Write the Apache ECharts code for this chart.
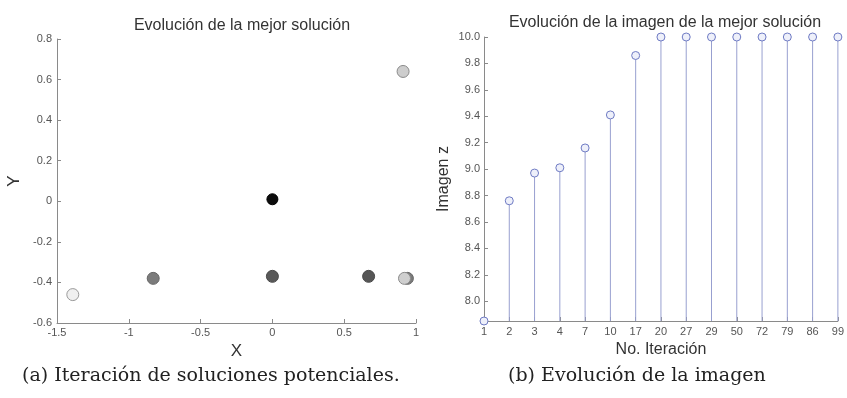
<!DOCTYPE html>
<html>
<head>
<meta charset="utf-8">
<script src="https://cdn.jsdelivr.net/npm/echarts@6/dist/echarts.min.js"></script>
<style>
  html, body { margin: 0; padding: 0; background: #fff; }
  #chart { width: 847px; height: 398px; }
</style>
</head>
<body>
<div id="chart"></div>
<script>
// Candidate solutions visited by the search (x, y)
const solX = [0.94, 0.92, 0.91, 0.0, 0.0, -0.83, -1.39, 0.67];
const solY = [-0.38, -0.38, 0.64, 0.01, -0.37, -0.38, -0.46, -0.37];

// Objective value of the best solution per iteration
const iterations = ['1', '2', '3', '4', '7', '10', '17', '20', '27', '29', '50', '72', '79', '86', '99'];
const imageZ = [7.85, 8.76, 8.97, 9.01, 9.16, 9.41, 9.86, 10.0, 10.0, 10.0, 10.0, 10.0, 10.0, 10.0, 10.0];

// Tick values
const xTicksA = [-1.5, -1, -0.5, 0, 0.5, 1];
const yTicksA = [-0.6, -0.4, -0.2, 0, 0.2, 0.4, 0.6, 0.8];
const yTicksB = [8.0, 8.2, 8.4, 8.6, 8.8, 9.0, 9.2, 9.4, 9.6, 9.8, 10.0];

// Grey level of each scatter marker (fill, border)
const shades = [
  ['#7a7a7a', '#666'], ['#cfcfcf', '#8a8a8a'], ['#cdcdcd', '#8a8a8a'],
  ['#0c0c0c', '#000'], ['#595959', '#4a4a4a'], ['#7b7b7b', '#666'],
  ['#f0f0f0', '#9a9a9a'], ['#565656', '#4a4a4a']
];

const axisCol = '#8a8a8a';
const labelCol = '#555';
const font = 'Liberation Sans, Arial, sans-serif';

const chart = echarts.init(document.getElementById('chart'), null, { renderer: 'canvas' });

const scatterData = solX.map((x, i) => ({
  value: [x, solY[i]],
  symbolSize: i === 3 ? 11 : 12,
  itemStyle: { color: shades[i][0], borderColor: shades[i][1], borderWidth: 1, opacity: 1 }
}));

const axisCommon = {
  axisLine: { show: true, onZero: false, lineStyle: { color: axisCol, width: 1 } },
  axisTick: { show: true, inside: true, length: 4, lineStyle: { color: axisCol } },
  splitLine: { show: false },
  axisLabel: { color: labelCol, fontSize: 11, fontFamily: font },
  nameTextStyle: { color: '#333', fontFamily: font }
};

const option = {
  animation: false,
  backgroundColor: '#fff',
  title: [
    { text: 'Evolución de la mejor solución', left: 237, top: 13, textAlign: 'center',
      textStyle: { fontSize: 16, fontWeight: 'normal', color: '#333', fontFamily: font } },
    { text: 'Evolución de la imagen de la mejor solución', left: 660, top: 10, textAlign: 'center',
      textStyle: { fontSize: 16, fontWeight: 'normal', color: '#333', fontFamily: font } }
  ],
  grid: [
    { left: 57, top: 39, width: 359, height: 284 },
    { left: 484, top: 37, width: 354, height: 284 }
  ],
  xAxis: [
    Object.assign({}, axisCommon, {
      gridIndex: 0, type: 'value', min: -1.5, max: 1,
      name: 'X', nameLocation: 'middle', nameGap: 16,
      nameTextStyle: { color: '#333', fontSize: 17, fontFamily: font },
      axisTick: Object.assign({}, axisCommon.axisTick, { customValues: xTicksA }),
      axisLabel: Object.assign({}, axisCommon.axisLabel, { customValues: xTicksA, margin: 4 })
    }),
    Object.assign({}, axisCommon, {
      gridIndex: 1, type: 'category', data: iterations, boundaryGap: false,
      name: 'No. Iteración', nameLocation: 'middle', nameGap: 20,
      nameTextStyle: { color: '#333', fontSize: 16, fontFamily: font },
      axisTick: Object.assign({}, axisCommon.axisTick, { alignWithLabel: true }),
      axisLabel: Object.assign({}, axisCommon.axisLabel, { margin: 5, interval: 0 })
    })
  ],
  yAxis: [
    Object.assign({}, axisCommon, {
      gridIndex: 0, type: 'value', min: -0.6, max: 0.8,
      name: 'Y', nameLocation: 'middle', nameGap: 34,
      nameTextStyle: { color: '#333', fontSize: 17, fontFamily: font },
      axisTick: Object.assign({}, axisCommon.axisTick, { customValues: yTicksA }),
      axisLabel: Object.assign({}, axisCommon.axisLabel, { customValues: yTicksA, margin: 5,
        formatter: v => String(Math.round(v * 10) / 10) })
    }),
    Object.assign({}, axisCommon, {
      gridIndex: 1, type: 'value', min: imageZ[0], max: 10,
      name: 'Imagen z', nameLocation: 'middle', nameGap: 32,
      nameTextStyle: { color: '#333', fontSize: 16, fontFamily: font },
      axisTick: Object.assign({}, axisCommon.axisTick, { customValues: yTicksB }),
      axisLabel: Object.assign({}, axisCommon.axisLabel, { customValues: yTicksB, margin: 4,
        formatter: v => v.toFixed(1) })
    })
  ],
  series: [
    {
      type: 'scatter', xAxisIndex: 0, yAxisIndex: 0,
      symbol: 'circle', data: scatterData, z: 3
    },
    {
      // stems
      type: 'bar', xAxisIndex: 1, yAxisIndex: 1,
      data: imageZ, barWidth: 1,
      itemStyle: { color: '#98a0d0' }, z: 2
    },
    {
      // stem heads
      type: 'scatter', xAxisIndex: 1, yAxisIndex: 1,
      data: imageZ, symbol: 'circle', symbolSize: 8,
      itemStyle: { color: '#eef0fa', borderColor: '#6f7bc4', borderWidth: 1, opacity: 1 }, z: 4
    }
  ],
  graphic: [
    { type: 'text', left: 22, top: 367,
      style: { text: '(a) Iteración de soluciones potenciales.', fontSize: 19,
        fontFamily: 'DejaVu Serif, serif', fill: '#222' } },
    { type: 'text', left: 508, top: 367,
      style: { text: '(b) Evolución de la imagen', fontSize: 19,
        fontFamily: 'DejaVu Serif, serif', fill: '#222' } }
  ]
};

chart.setOption(option);
</script>
</body>
</html>
